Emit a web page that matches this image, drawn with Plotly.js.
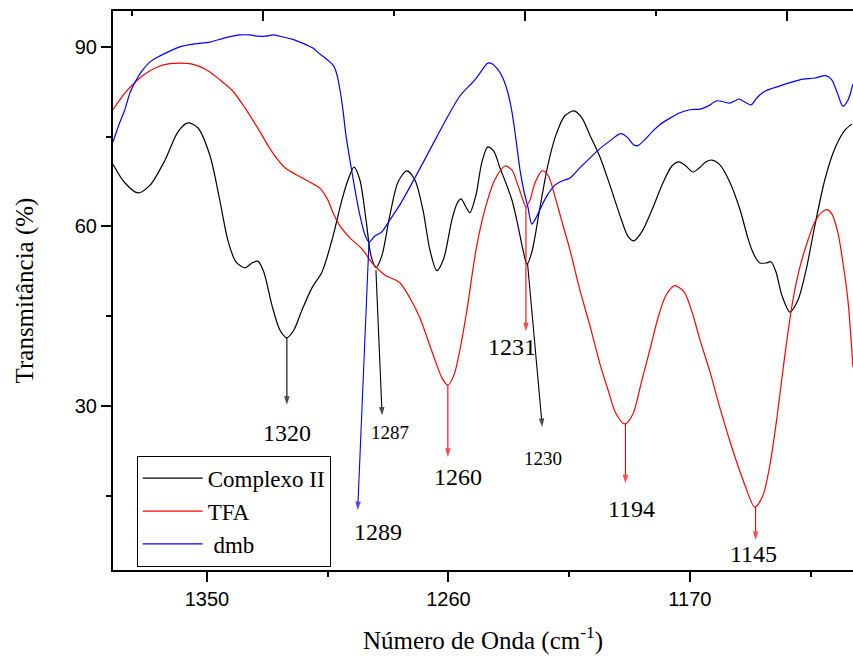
<!DOCTYPE html>
<html>
<head>
<meta charset="utf-8">
<script src="https://cdn.plot.ly/plotly-3.0.1.min.js"></script>
<style>html,body{margin:0;padding:0;background:#fff;}#chart{width:853px;height:659px;}</style>
</head>
<body>
<div id="chart"></div>
<script>
// ---- Data (wavenumber cm-1, transmittance %) ----
const complexoX = [1385.0,1380.6,1375.7,1371.2,1365.6,1360.8,1357.1,1353.4,1348.9,1345.2,1342.2,1339.2,1335.8,1333.2,1331.0,1328.8,1325.8,1322.8,1320.2,1317.6,1314.6,1310.9,1307.1,1303.4,1299.7,1297.4,1295.2,1293.0,1290.7,1288.9,1287.0,1284.8,1281.8,1278.8,1275.5,1272.5,1269.5,1266.9,1264.3,1261.7,1258.7,1256.8,1255.3,1253.5,1252.0,1249.7,1247.5,1245.3,1243.0,1240.8,1238.6,1236.3,1234.1,1232.2,1230.7,1228.9,1225.9,1222.9,1219.9,1216.6,1213.2,1210.2,1207.3,1203.5,1199.8,1196.1,1193.1,1190.9,1187.9,1184.1,1180.4,1176.7,1174.1,1171.5,1168.9,1166.2,1164.0,1161.8,1158.8,1155.1,1151.3,1148.4,1146.9,1145.4,1143.9,1141.6,1139.8,1137.9,1135.7,1132.7,1129.7,1126.7,1123.4,1119.7,1115.9,1112.2,1109.6];
const complexoY = [70.4,67.3,65.6,66.9,71.1,75.8,77.3,76.5,71.9,64.4,57.7,54.1,53.1,53.9,54.2,52.4,46.9,42.7,41.4,42.7,46.0,49.7,52.4,57.7,64.4,67.8,69.9,67.8,61.1,55.2,53.1,55.1,61.9,67.4,69.3,67.8,62.8,56.1,52.6,54.7,61.1,63.8,64.6,63.3,62.3,65.3,70.8,73.3,72.5,69.8,67.3,64.4,60.2,56.1,53.7,55.7,63.1,70.3,75.3,78.5,79.3,78.1,75.3,71.6,66.9,61.9,58.4,57.6,59.1,62.8,66.9,70.1,70.8,70.1,69.1,69.9,70.8,71.1,70.3,67.4,62.8,58.1,56.1,54.7,53.9,53.9,54.1,52.4,48.5,45.7,47.7,52.7,60.2,67.8,73.1,76.1,77.1];

const tfaX = [1385.0,1380.9,1376.8,1372.0,1367.5,1363.8,1360.1,1356.3,1352.6,1348.9,1345.2,1340.7,1335.8,1330.2,1325.8,1320.9,1315.3,1311.6,1307.9,1304.9,1303.0,1300.4,1296.7,1291.9,1288.5,1283.7,1278.1,1274.3,1270.6,1268.0,1265.0,1262.4,1260.2,1257.9,1255.7,1253.1,1249.7,1246.4,1242.7,1238.9,1236.3,1234.1,1232.2,1231.1,1229.6,1227.7,1225.1,1222.9,1219.9,1217.3,1214.7,1211.0,1207.3,1203.5,1200.5,1197.6,1194.2,1191.2,1187.9,1184.9,1181.9,1178.9,1175.6,1172.2,1169.2,1166.2,1162.5,1158.8,1154.0,1149.5,1145.8,1142.8,1140.2,1137.5,1134.6,1131.6,1129.0,1126.0,1123.4,1120.8,1118.9,1117.1,1114.8,1113.0,1111.1,1109.2];
const tfaY = [79.5,82.1,84.1,85.8,86.8,87.2,87.3,87.2,86.7,85.8,84.5,82.8,79.8,75.8,72.5,69.8,68.3,67.4,66.4,64.4,62.3,60.1,58.1,56.1,53.9,51.9,50.6,48.0,44.7,41.5,37.7,34.7,33.5,35.2,39.4,46.0,56.1,62.8,67.8,70.1,69.4,66.9,64.4,63.3,64.4,67.3,69.3,68.6,64.4,60.2,56.1,49.4,43.5,37.0,32.7,28.8,27.0,28.7,34.3,39.4,44.7,48.5,50.1,49.1,45.7,41.0,35.7,29.7,22.6,16.8,13.1,15.0,20.1,28.2,38.5,47.7,53.2,57.7,60.8,62.4,62.8,62.1,58.9,54.1,47.7,36.5];

const dmbX = [1385.0,1382.8,1380.6,1378.7,1376.8,1374.2,1371.2,1367.5,1363.8,1360.1,1354.5,1348.9,1343.3,1337.7,1334.0,1331.0,1328.0,1325.4,1322.0,1318.3,1315.3,1312.7,1310.5,1307.9,1306.0,1304.2,1302.7,1301.5,1300.4,1299.3,1298.2,1296.7,1294.8,1293.0,1291.1,1289.6,1287.4,1284.8,1281.8,1278.1,1272.5,1266.9,1261.3,1255.7,1250.1,1246.4,1245.3,1243.8,1241.5,1239.7,1237.8,1236.3,1234.8,1233.3,1231.8,1230.4,1228.9,1227.4,1225.9,1223.3,1220.3,1217.7,1214.7,1211.0,1207.3,1203.5,1199.8,1195.7,1193.1,1190.9,1189.4,1186.8,1184.1,1181.2,1177.4,1173.7,1170.0,1166.2,1163.3,1159.9,1157.3,1155.1,1153.2,1151.7,1149.5,1147.2,1145.0,1142.0,1136.4,1129.0,1123.4,1119.3,1117.1,1114.8,1113.0,1111.1,1109.2];
const dmbY = [74.1,77.0,79.5,82.3,84.1,86.0,87.5,88.5,89.3,90.0,90.5,90.8,91.5,92.0,92.0,91.8,91.8,92.0,91.7,91.3,90.8,90.3,89.8,88.8,88.2,87.5,86.8,85.3,82.8,79.5,75.3,71.1,66.1,61.9,58.6,57.4,58.4,59.1,61.1,63.6,68.1,72.8,77.5,81.8,84.5,86.8,87.3,87.2,86.2,84.8,82.3,79.1,74.5,69.4,65.8,63.3,60.4,61.4,62.8,65.1,66.9,67.6,68.1,69.8,71.4,73.0,74.3,75.5,74.8,73.6,73.5,74.5,75.8,77.0,78.1,79.0,79.5,79.6,80.1,81.0,80.8,80.6,81.0,81.3,80.8,80.3,81.5,82.6,83.5,84.5,84.8,85.2,84.5,82.0,80.1,81.1,83.8];

const seriesNames = ['Complexo II', 'TFA', '\u00a0dmb'];

// ---- Peak annotations (data units) ----
const peakLabels = ['1320','1287','1289','1260','1231','1230','1194','1145'];
const peakSeries = [0, 0, 2, 1, 1, 0, 1, 1];
const peakTailX  = [1320.2,1287.0,1289.6,1260.2,1231.1,1230.5,1194.0,1145.5];
const peakTailY  = [41.4,52.7,57.4,33.5,63.3,53.8,27.0,13.2];
const peakHeadX  = [1320.2,1284.7,1293.8,1260.2,1231.1,1225.0,1194.0,1145.5];
const peakHeadY  = [30.2,28.4,12.6,21.5,42.5,26.5,17.1,7.6];
const peakTextX  = [1320.2,1281.8,1286.3,1256.4,1236.4,1224.8,1191.7,1146.4];
const peakTextY  = [25.5,25.5,9.0,18.2,39.9,21.3,12.8,5.2];
const peakSmall  = [false,true,false,false,false,true,false,false];

// ---- Ticks ----
const xTicks = [1350, 1260, 1170];
const yTicks = [30, 60, 90];

const colors = ['#000000', '#ff0000', '#0000ff'];
const serif = 'Liberation Serif, Times New Roman, serif';
const sans = 'Liberation Sans, Arial, sans-serif';

const xs = [complexoX, tfaX, dmbX];
const ys = [complexoY, tfaY, dmbY];
const traces = xs.map((x, i) => ({
  x: x, y: ys[i], type: 'scatter', mode: 'lines', name: seriesNames[i],
  line: {color: colors[i], width: 1.2, shape: 'spline', smoothing: 0.8},
  hoverinfo: 'skip'
}));

// arrows: line from the band minimum down to an arrowhead
peakLabels.forEach((lab, i) => {
  const c = colors[peakSeries[i]];
  traces.push({
    x: [peakTailX[i], peakHeadX[i]], y: [peakTailY[i], peakHeadY[i]],
    type: 'scatter', mode: 'lines+markers', showlegend: false, hoverinfo: 'skip',
    line: {color: c, width: 1.1},
    marker: {symbol: 'arrow', angleref: 'previous', size: [0, 9], color: c, line: {width: 0}}
  });
});

// empty trace so the top (secondary) axis is drawn
traces.push({x: [null], y: [null], xaxis: 'x2', yaxis: 'y', type: 'scatter', mode: 'lines', showlegend: false, hoverinfo: 'skip'});

const annotations = peakLabels.map((lab, i) => ({
  x: peakTextX[i], y: peakTextY[i], xref: 'x', yref: 'y',
  text: lab, showarrow: false,
  font: {family: serif, size: peakSmall[i] ? 19 : 24, color: '#000'}
}));

const layout = {
  width: 853, height: 659,
  margin: {l: 113, r: 0, t: 11, b: 89, pad: 0},
  paper_bgcolor: '#fff', plot_bgcolor: '#fff',
  showlegend: true,
  legend: {
    x: 0.032, y: 0.2045, xanchor: 'left', yanchor: 'top',
    bgcolor: '#fff', bordercolor: '#000', borderwidth: 1,
    font: {family: serif, size: 23, color: '#000'},
    itemwidth: 60, tracegroupgap: 0
  },
  xaxis: {
    range: [1385.0, 1109.2], autorange: false,
    tickmode: 'array', tickvals: xTicks, ticktext: xTicks.map(String),
    ticks: 'outside', ticklen: 10, tickwidth: 2, tickcolor: '#000',
    minor: {dtick: 45, tick0: 1350, ticks: 'outside', ticklen: 5, tickwidth: 2, tickcolor: '#000'},
    showline: true, linewidth: 2, linecolor: '#000',
    showgrid: false, zeroline: false,
    tickfont: {family: sans, size: 20, color: '#000'},
    title: {text: 'Número de Onda (cm<sup>-1</sup>)', font: {family: serif, size: 25, color: '#000'}, standoff: 22},
    automargin: false
  },
  xaxis2: {
    overlaying: 'x', side: 'top', anchor: 'y',
    range: [-0.147, 5.502], autorange: false,
    tickmode: 'linear', tick0: 1, dtick: 2, ticks: 'inside', ticklen: 10, tickwidth: 2, tickcolor: '#000',
    minor: {dtick: 1, tick0: 0, ticks: 'inside', ticklen: 5, tickwidth: 2, tickcolor: '#000'},
    showticklabels: false, showline: true, linewidth: 2, linecolor: '#000',
    showgrid: false, zeroline: false
  },
  yaxis: {
    range: [2.6, 96], autorange: false,
    tickmode: 'array', tickvals: yTicks, ticktext: yTicks.map(String),
    ticks: 'outside', ticklen: 10, tickwidth: 2, tickcolor: '#000',
    minor: {dtick: 15, tick0: 0, ticks: 'outside', ticklen: 5, tickwidth: 2, tickcolor: '#000'},
    showline: true, linewidth: 2, linecolor: '#000',
    showgrid: false, zeroline: false,
    tickfont: {family: sans, size: 20, color: '#000'},
    title: {text: 'Transmitância (%)', font: {family: serif, size: 25, color: '#000'}, standoff: 34},
    automargin: false
  },
  annotations: annotations
};

Plotly.newPlot('chart', traces, layout, {staticPlot: true, displayModeBar: false});
</script>
</body>
</html>
